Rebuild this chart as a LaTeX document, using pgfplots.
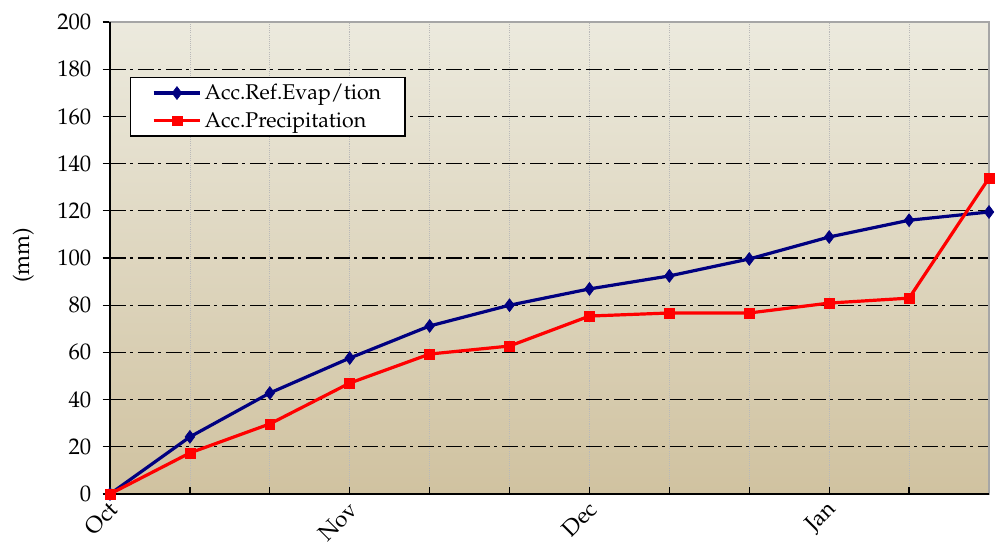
\documentclass[border=0pt]{standalone}
\usepackage[T1]{fontenc}
\usepackage{mathpazo}
\usepackage{pgfplots}
\pgfplotsset{compat=1.18}
\definecolor{evap}{RGB}{0,0,128}
\definecolor{prec}{RGB}{255,0,0}
\definecolor{bgtop}{RGB}{236,234,222}
\definecolor{bgmid}{RGB}{236,230,210}
\definecolor{bgbot}{RGB}{208,194,160}
\begin{document}
\begin{tikzpicture}
\useasboundingbox (-82.5pt,-39.75pt) rectangle (665.25pt,370.5pt);
\begin{axis}[
  at={(0pt,0pt)}, anchor=south west,
  scale only axis,
  width=659.25pt, height=354pt,
  xmin=0, xmax=11, ymin=0, ymax=200,
  clip=false,
  font=\fontsize{17}{20}\selectfont,
  axis background/.style={top color=bgtop, middle color=bgmid, bottom color=bgbot},
  axis line style={gray!70, line width=1pt},
  xtick={0,3,6,9},
  xticklabels={Oct,Nov,Dec,Jan},
  minor xtick={1,2,4,5,7,8,10,11},
  xtick pos=bottom, ytick pos=left,
  ytick={0,20,...,200},
  major tick length=5.5pt, minor tick length=5.5pt,
  x tick style={black, line width=1pt},
  y tick style={black, line width=1pt},
  minor x tick style={black, line width=1pt},
  xtick align=inside, ytick align=outside,
  tick label style={font=\fontsize{17}{20}\selectfont},
  xticklabel style={rotate=45, anchor=east, xshift=-1pt, yshift=-8pt},
  yticklabel style={xshift=-5pt},
  xmajorgrids, xminorgrids, ymajorgrids,
  x grid style={gray!55, densely dotted, line width=0.6pt},
  minor x grid style={gray!55, densely dotted, line width=0.6pt},
  y grid style={black, line width=0.9pt, dash pattern=on 12pt off 3pt on 2.5pt off 3.5pt},
  ylabel={(mm)},
  every axis y label/.style={at={(rel axis cs:0,0.5)}, rotate=90, anchor=center, yshift=65pt, xshift=2pt, font=\fontsize{17}{20}\selectfont},
  legend style={at={(rel axis cs:0.0228,0.8835)}, anchor=north west,
    draw=black, line width=1pt, fill=white, font=\fontsize{16}{19}\selectfont,
    row sep=4pt, inner xsep=16pt, inner ysep=3pt,
    legend cell align=left},
  legend image code/.code={\draw[mark repeat=2,mark phase=2] plot coordinates {(0pt,0pt) (17.5pt,0pt) (35pt,0pt)};},
]
\draw[black, line width=1.6pt] (rel axis cs:0,1) -- (rel axis cs:0,0) -- (rel axis cs:1,0);
\addplot[evap, line width=2.4pt, mark=diamond*, mark size=4.8pt, mark options={line width=0.5pt}]
  coordinates {(0,0) (1,24.2) (2,42.8) (3,57.6) (4,71.2) (5,80) (6,86.9) (7,92.4) (8,99.6) (9,108.9) (10,116) (11,119.5)};
\addlegendentry{Acc.Ref.Evap/tion}
\addplot[prec, line width=2.4pt, mark=square*, mark size=3.7pt, mark options={line width=0.5pt}]
  coordinates {(0,0) (1,17.4) (2,29.7) (3,47) (4,59.3) (5,62.7) (6,75.4) (7,76.7) (8,76.7) (9,80.9) (10,83) (11,133.9)};
\addlegendentry{Acc.Precipitation}
\end{axis}
\end{tikzpicture}
\end{document}
